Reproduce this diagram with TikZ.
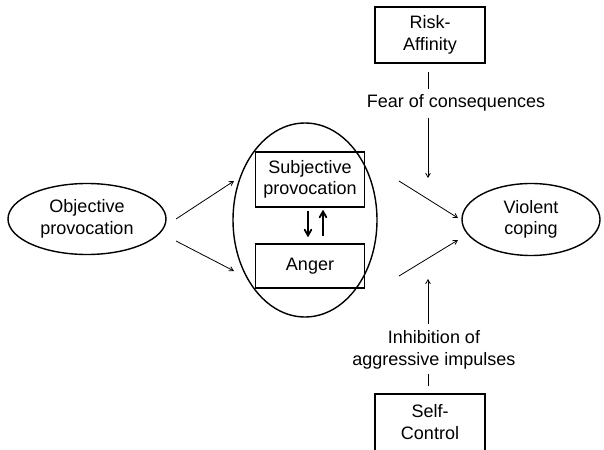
\documentclass[tikz,border=0pt]{standalone}
\usepackage{fontspec}
\setmainfont{Liberation Sans}
\usetikzlibrary{shapes,arrows,calc}

\begin{document}
\begin{tikzpicture}[x=1pt,y=-1pt]
\tikzset{oval/.style={draw, ellipse, line width=1.4pt, inner sep=0pt, align=center}}
\tikzset{factor/.style={draw, rectangle, line width=1.4pt, inner sep=0pt, align=center}}
\tikzset{link/.style={->, >={angle 60[scale=1.4]}, line width=0.8pt}}
\tikzset{thicklink/.style={->, >={angle 60[scale=1.2]}, line width=1.8pt}}
\tikzstyle{every node}=[font=\fontsize{18}{21.6}\selectfont]
\useasboundingbox (0,0) rectangle (604,449);

% nodes
\node[oval, minimum width=158pt, minimum height=71pt] (objprov) at (87,219) {Objective\\provocation};
\node[oval, minimum width=144pt, minimum height=194pt] (appraisal) at (305,220) {};
\node[factor, minimum width=109pt, minimum height=55pt] (subjprov) at (310,179.5) {Subjective\\provocation};
\node[factor, minimum width=109pt, minimum height=44pt] (anger) at (310,266) {Anger};
\node[oval, minimum width=138pt, minimum height=72pt] (violent) at (531,219.5) {Violent\\coping};
\node[factor, minimum width=110pt, minimum height=56pt] (risk) at (430,35) {Risk-\\Affinity};
\node[factor, minimum width=110pt, minimum height=60pt, text depth=4pt] (selfctrl) at (430,424) {Self-\\Control};
\node (fear) at (456,103) {Fear of consequences};
\node[align=center] (inhib) at (434,350) {Inhibition of\\aggressive impulses};

% connector ends
\coordinate (o1) at (176,219);
\coordinate (o2) at (176,241);
\coordinate (a1) at (234,181);
\coordinate (a2) at (234,271);
\coordinate (b1) at (399,181);
\coordinate (b2) at (399,276);
\coordinate (v1) at (458,218);
\coordinate (v2) at (458,240);

% arrows
\draw[link] (o1) -- (a1);
\draw[link] (o2) -- (a2);
\draw[link] (b1) -- (v1);
\draw[link] (b2) -- (v2);
\draw[thicklink] ([xshift=-2pt,yshift=-3pt]subjprov.south) -- ([xshift=-2pt,yshift=6pt]anger.north);
\draw[thicklink] ([xshift=13pt,yshift=7pt]anger.north) -- ([xshift=13pt,yshift=-2pt]subjprov.south);

% moderators
\draw[line width=0.8pt] ([xshift=-2pt,yshift=-8pt]risk.south) -- ([xshift=-2pt,yshift=-25pt]risk.south);
\draw[link] (428,118) -- (428,178);
\draw[link] (428,324) -- (428,279);
\draw[line width=0.8pt] ([xshift=-2pt,yshift=19pt]selfctrl.north) -- ([xshift=-2pt,yshift=7pt]selfctrl.north);
\end{tikzpicture}
\end{document}
